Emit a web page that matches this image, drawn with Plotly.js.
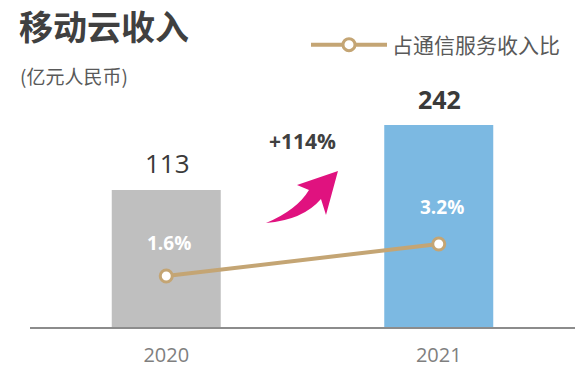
<!DOCTYPE html>
<html>
<head>
<meta charset="utf-8">
<script src="https://cdn.plot.ly/plotly-3.0.1.min.js"></script>
<style>html,body{margin:0;padding:0;background:#fff;}#chart{width:580px;height:378px;}</style>
</head>
<body>
<div id="chart"></div>
<script>
// Data
const years = ['2020', '2021'];
const revenue = [113, 242];           // 亿元人民币
const sharePct = [1.6, 3.2];          // 占通信服务收入比 (%)
const growthLabel = '+114%';
const titleText = '移动云收入';
const unitText = '(亿元人民币)';
const lineName = '占通信服务收入比';

const barColors = ['#bfbfbf', '#7cb9e2'];
const lineColor = '#c4a574';
const cjk = '"Noto Sans CJK SC", "Open Sans", sans-serif';
const num = '"Open Sans", "Noto Sans CJK SC", sans-serif';

const L = 30, T = 100, W = 545, H = 227;
const px = (x) => ((x - L) / W);
const py = (y) => ((T + H - y) / H);

const traces = [
  {
    type: 'bar', x: years, y: revenue,
    marker: {color: barColors},
    width: 0.4, showlegend: false, hoverinfo: 'skip'
  },
  {
    type: 'scatter', mode: 'lines+markers', x: years, y: sharePct, yaxis: 'y2',
    name: lineName,
    line: {color: lineColor, width: 4},
    marker: {size: 12, color: '#ffffff', line: {color: lineColor, width: 3}},
    hoverinfo: 'skip'
  }
];

const annotations = [];
revenue.forEach((v, i) => {
  const last = i === revenue.length - 1;
  annotations.push({
    x: i, y: Math.log10(v), xref: 'x', yref: 'y',
    text: last ? '<b>' + v + '</b>' : String(v),
    showarrow: false, xanchor: 'center', yanchor: 'middle', yshift: last ? 26 : 27, xshift: 1,
    font: {family: num, size: last ? 25 : 26, color: '#3a3a3a'}
  });
});
sharePct.forEach((v, i) => {
  annotations.push({
    x: i, y: v, xref: 'x', yref: 'y2',
    text: '<b>' + v.toFixed(1) + '%</b>',
    showarrow: false, xanchor: 'center', yanchor: 'middle', yshift: i === 0 ? 33 : 37, xshift: 3,
    font: {family: num, size: 19, color: '#ffffff'}
  });
});
annotations.push({
  x: px(302), y: py(141), xref: 'paper', yref: 'paper',
  xanchor: 'center', yanchor: 'middle',
  text: '<b>' + growthLabel + '</b>', showarrow: false,
  font: {family: num, size: 21, color: '#404040'}
});
annotations.push({
  x: px(18), y: py(75), xref: 'paper', yref: 'paper',
  xanchor: 'left', yanchor: 'middle',
  text: unitText, showarrow: false,
  font: {family: cjk, size: 19, color: '#595959'}
});

// curved growth arrow (paper coords from pixel geometry of the plot area)
const f = (v) => v.toFixed(4);
const arrowPath = `M ${f(px(266))} ${f(py(223))} Q ${f(px(297))} ${f(py(210))} ${f(px(309))} ${f(py(190))} ` +
  `L ${f(px(297))} ${f(py(185))} L ${f(px(338))} ${f(py(171))} L ${f(px(326))} ${f(py(215))} L ${f(px(321))} ${f(py(199))} ` +
  `Q ${f(px(303))} ${f(py(220))} ${f(px(266))} ${f(py(223))} Z`;

const layout = {
  width: 580, height: 378,
  margin: {l: L, r: 580 - L - W, t: T, b: 378 - T - H, autoexpand: false},
  paper_bgcolor: '#ffffff', plot_bgcolor: '#ffffff',
  title: {
    text: '<b>' + titleText + '</b>', x: 19 / 580, xanchor: 'left', xref: 'container',
    y: 1 - 28 / 378, yanchor: 'middle', yref: 'container',
    font: {family: cjk, size: 34, color: '#404040'}
  },
  xaxis: {
    type: 'category', range: [-0.5, 1.5],
    showline: true, linecolor: '#8c8c8c', linewidth: 2,
    showgrid: false, zeroline: false, ticks: '',
    tickfont: {family: num, size: 20, color: '#7f7f7f'},
    ticklabelstandoff: 9, fixedrange: true
  },
  yaxis: {
    type: 'log', range: [1.357, 2.511], visible: false, showgrid: false, fixedrange: true
  },
  yaxis2: {
    overlaying: 'y', side: 'right', range: [-0.95, 10.4], visible: false, showgrid: false, fixedrange: true
  },
  showlegend: true,
  legend: {
    x: px(306), xanchor: 'left',
    y: py(45), yanchor: 'middle',
    itemwidth: 76, bgcolor: 'rgba(0,0,0,0)',
    font: {family: cjk, size: 21, color: '#595959'}
  },
  annotations: annotations,
  shapes: [{
    type: 'path', xref: 'paper', yref: 'paper', path: arrowPath,
    fillcolor: '#e0127f', line: {width: 0}, layer: 'above'
  }]
};

Plotly.newPlot('chart', traces, layout, {displayModeBar: false, staticPlot: true});
</script>
</body>
</html>
